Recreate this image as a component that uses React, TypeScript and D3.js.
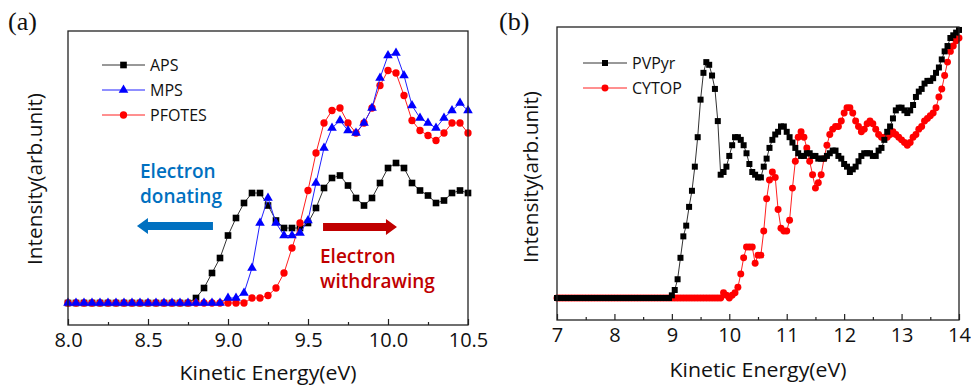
import React, { useEffect, useRef } from "react";
import * as d3 from "d3";

// panel (a): secondary electron spectra, 8.0 - 10.5 eV in 0.05 eV steps
const energyA = d3.range(51).map((i) => +(8 + i * 0.05).toFixed(2));
const aps = [
  0, 0, 0, 0, 0, 0, 0, 0, 0, 0, 0, 0, 0, 0, 0, 0,
  0.02, 0.06, 0.12, 0.18, 0.27, 0.34, 0.40, 0.44, 0.44, 0.39,
  0.33, 0.30, 0.30, 0.30, 0.32, 0.38, 0.46, 0.50, 0.51, 0.47,
  0.42, 0.39, 0.42, 0.48, 0.54, 0.56, 0.54, 0.48, 0.45, 0.43,
  0.40, 0.41, 0.44, 0.45, 0.44,
];
const mps = [
  0, 0, 0, 0, 0, 0, 0, 0, 0, 0, 0, 0, 0, 0, 0, 0, 0, 0, 0, 0,
  0.02, 0.02, 0.04, 0.14, 0.32, 0.42, 0.32, 0.27, 0.27, 0.28,
  0.33, 0.48, 0.62, 0.70, 0.73, 0.69, 0.68, 0.72, 0.78, 0.90,
  0.99, 1.00, 0.91, 0.79, 0.74, 0.72, 0.70, 0.74, 0.77, 0.80, 0.77,
];
const pfotes = [
  0, 0, 0, 0, 0, 0, 0, 0, 0, 0, 0, 0, 0, 0, 0, 0, 0, 0, 0, 0, 0, 0,
  0.00, 0.02, 0.02, 0.03, 0.06, 0.12, 0.22, 0.32, 0.45, 0.60,
  0.72, 0.77, 0.78, 0.72, 0.68, 0.72, 0.78, 0.87, 0.93, 0.92,
  0.83, 0.73, 0.69, 0.67, 0.65, 0.68, 0.72, 0.72, 0.68,
];

// panel (b): 7 - 14 eV in 0.05 eV steps
const energyB = d3.range(141).map((i) => +(7 + i * 0.05).toFixed(2));
const pvpyr = [
  0, 0, 0, 0, 0, 0, 0, 0, 0, 0, 0, 0, 0, 0, 0, 0, 0, 0, 0, 0,
  0, 0, 0, 0, 0, 0, 0, 0, 0, 0, 0, 0, 0, 0, 0, 0, 0, 0, 0, 0,
  0.01, 0.03, 0.07, 0.15, 0.23, 0.27, 0.34, 0.40, 0.49, 0.60,
  0.74, 0.84, 0.88, 0.87, 0.83, 0.78, 0.66, 0.46, 0.47, 0.49,
  0.53, 0.57, 0.60, 0.60, 0.59, 0.57, 0.54, 0.50, 0.47, 0.46,
  0.45, 0.45, 0.49, 0.52, 0.56, 0.59, 0.61, 0.62, 0.64, 0.64,
  0.62, 0.60, 0.58, 0.56, 0.54, 0.53, 0.53, 0.54, 0.54, 0.53,
  0.53, 0.52, 0.52, 0.52, 0.53, 0.54, 0.55, 0.55, 0.53, 0.52,
  0.50, 0.49, 0.47, 0.48, 0.49, 0.51, 0.53, 0.54, 0.54, 0.54,
  0.53, 0.53, 0.55, 0.56, 0.59, 0.62, 0.64, 0.67, 0.70, 0.71,
  0.71, 0.70, 0.69, 0.70, 0.72, 0.75, 0.77, 0.78, 0.80, 0.81,
  0.81, 0.82, 0.84, 0.86, 0.89, 0.92, 0.94, 0.97, 0.98, 0.99,
  1.00,
];
const cytop = [
  0, 0, 0, 0, 0, 0, 0, 0, 0, 0, 0, 0, 0, 0, 0, 0, 0, 0, 0, 0,
  0, 0, 0, 0, 0, 0, 0, 0, 0, 0, 0, 0, 0, 0, 0, 0, 0, 0, 0, 0,
  0, 0, 0, 0, 0, 0, 0, 0, 0, 0, 0, 0, 0, 0, 0, 0, 0,
  0.00, 0.02, 0.01, 0.00, 0.01,
  0.02, 0.04, 0.09, 0.15, 0.19, 0.19, 0.19, 0.13, 0.16, 0.16,
  0.25, 0.37, 0.44, 0.47, 0.45, 0.33, 0.26, 0.25, 0.25, 0.29,
  0.41, 0.51, 0.60, 0.62, 0.60, 0.56, 0.51, 0.46, 0.41, 0.43,
  0.46, 0.52, 0.57, 0.61, 0.63, 0.64, 0.64, 0.66, 0.69, 0.71,
  0.71, 0.69, 0.66, 0.64, 0.62, 0.63, 0.65, 0.66, 0.65, 0.63,
  0.61, 0.60, 0.60, 0.60, 0.61, 0.62, 0.61, 0.60, 0.59, 0.58,
  0.57, 0.58, 0.60, 0.61, 0.63, 0.64, 0.66, 0.67, 0.68, 0.69,
  0.71, 0.75, 0.78, 0.83, 0.88, 0.92, 0.94, 0.96, 0.97,
];

const ticksA = [8.0, 8.5, 9.0, 9.5, 10.0, 10.5];
const minorA = [8.25, 8.75, 9.25, 9.75, 10.25];
const ticksB = [7, 8, 9, 10, 11, 12, 13, 14];
const minorB = [7.5, 8.5, 9.5, 10.5, 11.5, 12.5, 13.5];

const FONT = "'Open Sans', 'Noto Sans', sans-serif";

const drawPanel = (svg, p) => {
  const x = d3.scaleLinear().domain(p.xDomain).range([p.left, p.right]);
  const y = d3.scaleLinear().domain(p.yDomain).range([p.bottom, p.top]);
  const g = svg.append("g");

  // series are listed in drawing order (last one on top)
  p.series.forEach((s) => {
    const pts = p.energy.map((e, i) => [e, s.values[i]]);
    g.append("path")
      .datum(pts)
      .attr("fill", "none")
      .attr("stroke", s.line)
      .attr("stroke-width", 1)
      .attr("d", d3.line().x((d) => x(d[0])).y((d) => y(d[1])));
    g.selectAll(null)
      .data(pts)
      .enter()
      .append("path")
      .attr("transform", (d) => `translate(${x(d[0])},${y(d[1])})`)
      .attr("d", d3.symbol().type(s.symbol).size(s.size)())
      .attr("fill", s.color);
  });

  // frame
  g.append("rect")
    .attr("x", p.left)
    .attr("y", p.top)
    .attr("width", p.right - p.left)
    .attr("height", p.bottom - p.top)
    .attr("fill", "none")
    .attr("stroke", "#222")
    .attr("stroke-width", 1.3);

  // ticks point inward
  const major = g
    .append("g")
    .attr("transform", `translate(0,${p.bottom})`)
    .call(
      d3
        .axisBottom(x)
        .tickValues(p.ticks)
        .tickSizeInner(-6)
        .tickSizeOuter(0)
        .tickPadding(p.tickPad)
        .tickFormat(p.fmt)
    );
  major.select(".domain").remove();
  major.selectAll("line").attr("stroke", "#222").attr("stroke-width", 1.2);
  major
    .selectAll("text")
    .attr("fill", "#111")
    .style("font-family", FONT)
    .style("font-size", "20px");

  const minor = g
    .append("g")
    .attr("transform", `translate(0,${p.bottom})`)
    .call(d3.axisBottom(x).tickValues(p.minor).tickSizeInner(-3).tickSizeOuter(0).tickFormat(""));
  minor.select(".domain").remove();
  minor.selectAll("line").attr("stroke", "#222").attr("stroke-width", 1.2);

  // axis titles
  g.append("text")
    .attr("x", (p.left + p.right) / 2)
    .attr("y", p.xTitleY)
    .attr("text-anchor", "middle")
    .attr("textLength", 177)
    .attr("lengthAdjust", "spacingAndGlyphs")
    .style("font-family", FONT)
    .style("font-size", "20px")
    .attr("fill", "#111")
    .text("Kinetic Energy(eV)");

  g.append("text")
    .attr("transform", `translate(${p.yTitleX},${p.yTitleY}) rotate(-90)`)
    .attr("text-anchor", "middle")
    .attr("textLength", 172)
    .attr("lengthAdjust", "spacingAndGlyphs")
    .style("font-family", FONT)
    .style("font-size", "20px")
    .attr("fill", "#111")
    .text("Intensity(arb.unit)");

  // panel tag
  g.append("text")
    .attr("x", p.tagX)
    .attr("y", 30)
    .style("font-family", "'Liberation Serif', 'DejaVu Serif', serif")
    .style("font-size", "26px")
    .attr("fill", "#111")
    .text(p.tag);

  // legend, rows in legend order
  p.series.forEach((s) => {
    const ly = p.legend.y + s.row * 25;
    g.append("line")
      .attr("x1", p.legend.x1)
      .attr("x2", p.legend.x2)
      .attr("y1", ly)
      .attr("y2", ly)
      .attr("stroke", s.line)
      .attr("stroke-width", 1);
    g.append("path")
      .attr("transform", `translate(${(p.legend.x1 + p.legend.x2) / 2},${ly})`)
      .attr("d", d3.symbol().type(s.symbol).size(s.size)())
      .attr("fill", s.color);
    g.append("text")
      .attr("x", p.legend.x2 + 5)
      .attr("y", ly + 6)
      .style("font-family", FONT)
      .style("font-size", "16px")
      .attr("fill", "#111")
      .text(s.name);
  });

  return { x, y, g };
};

const arrow = (g, x0, x1, yc, color) => {
  // x0 = tail, x1 = tip
  const dir = Math.sign(x1 - x0);
  const headLen = 11;
  const xs = x1 - dir * headLen;
  const pts = [
    [x0, yc - 4], [xs, yc - 4], [xs, yc - 8], [x1, yc],
    [xs, yc + 8], [xs, yc + 4], [x0, yc + 4],
  ];
  g.append("path").attr("d", d3.line()(pts) + "Z").attr("fill", color);
};

export default function App() {
  const svgRef = useRef(null);

  useEffect(() => {
    const svg = d3.select(svgRef.current);
    svg.selectAll("*").remove();

    const a = drawPanel(svg, {
      left: 68, right: 468, top: 31, bottom: 325,
      xDomain: [8, 10.5], yDomain: [-0.088, 1.088],
      energy: energyA,
      ticks: ticksA, minor: minorA, fmt: d3.format(".1f"), tickPad: 8,
      xTitleY: 380, yTitleX: 42, yTitleY: 179,
      tag: "(a)", tagX: 8,
      legend: { x1: 102, x2: 145, y: 65 },
      series: [
        { name: "APS", row: 0, values: aps, color: "#000", line: "#333", symbol: d3.symbolSquare, size: 44 },
        { name: "PFOTES", row: 2, values: pfotes, color: "#ff0000", line: "#ff2020", symbol: d3.symbolCircle, size: 42 },
        { name: "MPS", row: 1, values: mps, color: "#0000ff", line: "#2020ff", symbol: d3.symbolTriangle, size: 40 },
      ],
    });

    // annotations placed in data coordinates
    const ax = a.x, ay = a.y;
    const blue = "#0070c0", red = "#c00000";
    [["Electron", 0.5], ["donating", 0.4]].forEach(([t, v]) => {
      a.g.append("text").attr("x", ax(8.45)).attr("y", ay(v))
        .style("font-family", FONT).style("font-size", "19px").style("font-weight", 600)
        .attr("fill", blue).text(t);
    });
    [["Electron", 0.16], ["withdrawing", 0.06]].forEach(([t, v]) => {
      a.g.append("text").attr("x", ax(9.575)).attr("y", ay(v))
        .style("font-family", FONT).style("font-size", "19px").style("font-weight", 600)
        .attr("fill", red).text(t);
    });
    arrow(a.g, ax(8.906), ax(8.431), ay(0.308), blue);
    arrow(a.g, ax(9.594), ax(10.056), ay(0.304), red);

    drawPanel(svg, {
      left: 557, right: 959, top: 27, bottom: 320,
      xDomain: [7, 14], yDomain: [-0.082, 1.011],
      energy: energyB,
      ticks: ticksB, minor: minorB, fmt: d3.format("d"), tickPad: 8,
      xTitleY: 377, yTitleX: 538, yTitleY: 177,
      tag: "(b)", tagX: 499,
      legend: { x1: 583, x2: 627, y: 63 },
      series: [
        { name: "CYTOP", row: 1, values: cytop, color: "#ff0000", line: "#ff2020", symbol: d3.symbolCircle, size: 38 },
        { name: "PVPyr", row: 0, values: pvpyr, color: "#000", line: "#333", symbol: d3.symbolSquare, size: 36 },
      ],
    });
  }, []);

  return (
    <svg
      ref={svgRef}
      width={971}
      height={387}
      style={{ position: "absolute", left: 0, top: 0, background: "#fff" }}
    />
  );
}
